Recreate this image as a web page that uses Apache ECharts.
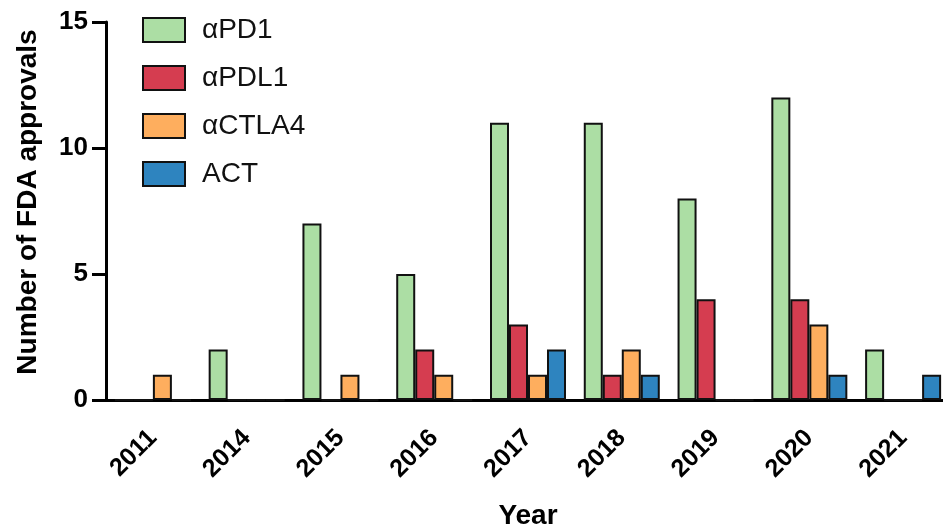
<!DOCTYPE html>
<html>
<head>
<meta charset="utf-8">
<script src="https://cdn.jsdelivr.net/npm/echarts@6/dist/echarts.min.js"></script>
<style>html,body{margin:0;padding:0;background:#fff;}#c{width:943px;height:529px;}</style>
</head>
<body>
<div id="c"></div>
<script>
const years = ['2011','2014','2015','2016','2017','2018','2019','2020','2021'];
const seriesNames = ['\u03b1PD1','\u03b1PDL1','\u03b1CTLA4','ACT'];
const aPD1   = [0,2,7,5,11,11,8,12,2];
const aPDL1  = [0,0,0,2,3,1,4,4,0];
const aCTLA4 = [1,0,1,1,1,2,0,3,0];
const ACT    = [0,0,0,0,2,1,0,1,1];
const colors = ['#acdea4','#d53d50','#feae5e','#2e84bf'];
const yTicks = [0,5,10,15];

const FONT = 'Liberation Sans, Arial, sans-serif';
const chart = echarts.init(document.getElementById('c'), null, {renderer:'canvas'});
const values = [aPD1,aPDL1,aCTLA4,ACT];
chart.setOption({
  animation:false,
  grid:{left:106, top:22, width:844, height:378, containLabel:false, outerBoundsMode:'none'},
  legend:{
    orient:'vertical', left:137, top:11,
    itemWidth:42, itemHeight:24, itemGap:20,
    icon:'rect',
    textStyle:{fontFamily:FONT, fontSize:28, color:'#111', padding:[5,0,0,12]},
    data:seriesNames
  },
  xAxis:{
    type:'category', data:years,
    axisLine:{lineStyle:{color:'#000', width:3}},
    axisTick:{alignWithLabel:true, length:9, lineStyle:{color:'#000', width:3}},
    axisLabel:{rotate:45, margin:34, color:'#000', fontWeight:'bold', fontSize:25, fontFamily:FONT},
    name:'Year', nameLocation:'middle', nameGap:102,
    nameTextStyle:{fontWeight:'bold', fontSize:28, color:'#000', fontFamily:FONT}
  },
  yAxis:{
    type:'value', min:0, max:15, interval:5,
    axisLine:{show:true, lineStyle:{color:'#000', width:3}},
    axisTick:{show:true, length:14, lineStyle:{color:'#000', width:3}},
    splitLine:{show:false},
    axisLabel:{color:'#000', fontWeight:'bold', fontSize:26, margin:18, fontFamily:FONT,
      formatter:v=> yTicks.includes(v) ? String(v) : ''},
    name:'Number of FDA approvals', nameLocation:'middle', nameGap:64,
    nameTextStyle:{fontWeight:'bold', fontSize:28, color:'#000', fontFamily:FONT, padding:[0,0,0,18]}
  },
  series: seriesNames.map((n,i)=>({
    name:n, type:'bar', data:values[i], barWidth:19, barGap:'0%',
    itemStyle:{color:colors[i], borderColor:'#111', borderWidth:2}
  }))
});
</script>
</body>
</html>
